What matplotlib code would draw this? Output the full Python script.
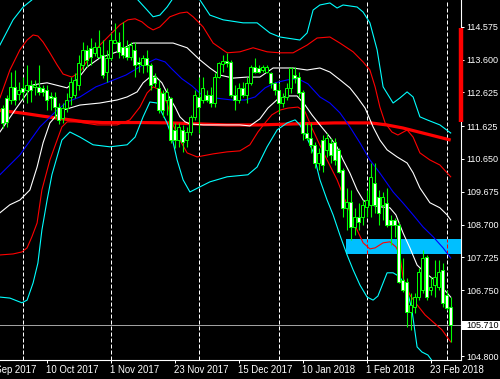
import matplotlib
matplotlib.use('Agg')
import matplotlib.pyplot as plt
import matplotlib.transforms as mtransforms
from matplotlib.patches import Rectangle
import numpy as np

plt.rcParams['font.family'] = ['Liberation Sans', 'DejaVu Sans']

# daily candles (bar 0 = mid Sep 2017, bar 112 = 2 Mar 2018)
opens = [112.162, 112.459, 112.400, 112.786, 112.578, 112.756, 112.697, 112.845, 112.786, 112.786,
         112.756, 112.697, 112.518, 112.489, 112.192, 111.865, 112.162, 112.489, 112.548, 112.845,
         113.438, 113.884, 113.943, 113.795, 113.676, 113.735, 113.231, 113.646, 114.092, 114.121,
         113.973, 113.973, 113.676, 113.884, 113.528, 113.438, 113.646, 113.438, 113.082, 112.756,
         112.608, 112.400, 112.459, 111.509, 111.212, 111.509, 111.212, 111.450, 111.895, 112.489,
         112.400, 112.548, 112.548, 112.311, 113.082, 113.468, 113.557, 113.528, 112.548, 112.400,
         112.756, 112.548, 112.904, 113.379, 113.349, 113.290, 113.231, 113.201, 112.904, 112.697,
         112.311, 112.489, 112.756, 113.142, 113.082, 112.637, 111.420, 111.272, 111.064, 110.530,
         111.212, 110.915, 111.123, 111.153, 110.915, 110.322, 109.194, 109.372, 108.630, 108.927,
         108.927, 109.223, 109.283, 109.936, 109.520, 109.283, 109.342, 108.838, 108.838, 108.689,
         107.057, 106.997, 106.107, 106.256, 106.552, 106.760, 107.739, 106.760, 106.908, 106.849,
         107.353, 106.612, 106.256]
highs = [112.251, 112.548, 113.231, 113.290, 112.934, 113.082, 113.438, 112.993, 112.993, 113.438,
         112.845, 112.845, 112.637, 112.637, 112.311, 112.311, 112.608, 113.082, 113.201, 113.735,
         114.121, 114.032, 114.240, 114.121, 114.477, 114.181, 113.884, 114.388, 114.685, 114.418,
         114.715, 114.181, 114.121, 114.121, 113.676, 113.735, 113.884, 113.498, 113.201, 112.993,
         112.697, 112.756, 112.489, 111.717, 111.717, 111.658, 111.598, 111.954, 112.697, 113.082,
         113.082, 112.697, 112.786, 113.201, 113.528, 113.735, 113.795, 113.587, 112.845, 112.904,
         112.934, 113.082, 113.438, 113.646, 113.438, 113.438, 113.438, 113.231, 112.934, 112.904,
         112.608, 112.904, 113.379, 113.379, 113.231, 112.697, 111.717, 111.717, 111.153, 110.975,
         111.361, 111.420, 111.272, 111.272, 110.975, 110.381, 109.788, 109.728, 109.194, 109.342,
         109.431, 109.728, 110.530, 110.530, 109.728, 109.669, 109.788, 108.986, 108.897, 108.778,
         107.709, 107.116, 106.671, 106.671, 107.413, 107.947, 107.799, 107.146, 107.650, 107.650,
         107.561, 106.760, 106.552]
lows = [111.568, 111.598, 112.281, 112.251, 112.400, 112.400, 112.311, 112.340, 112.548, 112.548,
        112.518, 112.103, 112.103, 111.865, 111.687, 111.717, 112.043, 112.251, 112.459, 112.697,
        113.290, 113.379, 113.438, 113.706, 113.646, 113.053, 112.934, 113.587, 114.092, 113.646,
        113.646, 113.587, 113.587, 113.082, 113.231, 113.201, 113.231, 112.697, 112.786, 112.014,
        111.895, 111.954, 111.123, 110.975, 111.004, 110.856, 111.004, 111.361, 111.806, 111.420,
        112.311, 112.340, 112.192, 112.192, 113.053, 113.231, 113.379, 112.489, 112.103, 112.311,
        112.489, 112.311, 112.845, 113.201, 113.201, 113.231, 113.201, 112.756, 112.548, 112.014,
        112.192, 112.400, 112.608, 112.904, 112.489, 111.212, 111.212, 110.826, 110.381, 110.322,
        110.263, 110.708, 110.530, 110.470, 110.233, 108.927, 108.541, 108.244, 108.393, 108.541,
        108.689, 108.927, 108.927, 109.045, 108.689, 108.838, 108.630, 108.095, 108.333, 106.968,
        106.701, 105.662, 105.573, 106.077, 106.463, 106.671, 106.463, 106.612, 106.552, 106.760,
        106.256, 106.167, 105.217]
closes = [111.717, 111.747, 112.786, 112.400, 112.697, 112.637, 112.845, 112.697, 112.845, 112.637,
          112.637, 112.400, 112.459, 112.192, 111.806, 112.162, 112.400, 112.934, 112.993, 113.498,
          113.884, 113.587, 113.676, 113.973, 113.973, 113.142, 113.646, 114.181, 114.181, 113.825,
          113.735, 113.676, 114.032, 113.438, 113.468, 113.646, 113.438, 112.845, 112.904, 112.103,
          112.103, 112.637, 111.212, 111.212, 111.598, 111.153, 111.450, 111.895, 112.548, 112.192,
          112.756, 112.400, 112.311, 113.082, 113.498, 113.557, 113.498, 112.548, 112.400, 112.756,
          112.548, 112.904, 113.379, 113.231, 113.231, 113.379, 113.379, 112.904, 112.697, 112.311,
          112.489, 112.756, 113.349, 113.053, 112.608, 111.420, 111.272, 111.064, 110.530, 110.826,
          110.470, 111.272, 110.767, 110.619, 110.263, 109.194, 109.372, 108.630, 108.927, 108.778,
          109.283, 109.431, 110.114, 109.283, 109.045, 109.520, 108.689, 108.689, 108.689, 106.997,
          106.760, 106.107, 106.315, 106.552, 107.294, 107.709, 106.552, 106.849, 107.146, 107.294,
          106.374, 106.226, 105.710]

# indicator lines (bar position, price)
cyan_up_x = [-0.7, 2.6, 5.1, 7.3, 11.8, 19.3, 26.8, 31.8, 33.8, 36.1, 37.6, 39.3, 41.1, 42.3, 45.6,
             49.3, 51.8, 55.1, 60.1, 63.6, 66.8, 69.3, 74.3, 76.1, 77.6, 79.3, 81.8, 83.6, 85.1, 88.6,
             90.1, 91.8, 93.6, 95.1, 97.6, 99.3, 101.1, 102.6, 104.3, 106.1, 109.3, 112]
cyan_up_y = [114.03, 114.78, 115.16, 115.37, 116.11, 116.56, 116.26, 115.61, 115.37, 115.07, 114.87,
             114.92, 115.16, 115.37, 115.73, 115.37, 114.92, 114.78, 114.69, 114.69, 114.39, 114.27,
             114.18, 114.39, 115.07, 115.22, 115.28, 115.13, 115.22, 115.16, 115.01, 114.69, 113.89,
             112.79, 112.31, 112.46, 112.64, 112.49, 111.90, 111.81, 111.66, 111.42]
cyan_lo_x = [-0.7, 1.8, 4.8, 6.1, 7.6, 8.8, 9.8, 11.1, 12.3, 14.8, 16.8, 19.3, 22.6, 26.8, 31.1,
             33.1, 35.1, 36.8, 38.6, 39.8, 41.1, 42.3, 43.6, 45.1, 46.8, 48.8, 51.8, 56.1, 61.3, 63.6,
             66.1, 68.6, 71.1, 73.1, 74.3, 76.1, 77.6, 79.3, 81.1, 82.6, 84.3, 86.1, 87.6, 89.3, 91.1,
             92.6, 93.8, 95.1, 96.1, 97.6, 99.3, 101.1, 102.3, 103.6, 104.8, 106.3, 107.6, 112]
cyan_lo_y = [106.55, 106.52, 106.38, 106.46, 106.97, 107.56, 108.54, 109.43, 110.18, 111.21, 111.45,
             111.30, 111.07, 111.01, 111.07, 111.30, 111.90, 112.34, 112.31, 112.02, 111.72, 111.30,
             110.62, 110.03, 109.67, 109.79, 109.97, 110.12, 110.18, 110.41, 111.01, 111.51, 111.72,
             111.81, 111.66, 111.27, 110.86, 110.03, 109.43, 108.99, 108.39, 107.80, 107.36, 106.91,
             106.55, 106.46, 106.58, 106.97, 107.27, 107.27, 107.15, 106.76, 106.17, 105.07, 104.92,
             104.83, 104.62, 104.24]
red_up_x = [-0.7, 1.8, 4.3, 6.1, 7.6, 8.8, 10.1, 11.8, 13.6, 15.1, 17.3, 19.3, 20.8, 22.3, 24.3,
            26.8, 29.3, 31.3, 33.1, 34.8, 36.3, 37.6, 39.3, 41.8, 44.3, 46.1, 47.6, 50.1, 52.6, 56.1,
            59.3, 62.6, 66.1, 69.3, 72.6, 76.1, 78.6, 81.8, 84.3, 87.6, 90.1, 91.8, 93.1, 94.3, 95.6,
            97.3, 98.8, 101.1, 102.6, 104.3, 106.8, 109.3, 112]
red_up_y = [112.46, 113.29, 113.89, 114.18, 114.33, 114.30, 114.12, 113.80, 113.44, 113.17, 113.08,
            113.23, 113.50, 113.74, 114.03, 114.33, 114.63, 114.78, 114.81, 114.72, 114.57, 114.48,
            114.57, 114.87, 114.98, 115.01, 114.87, 114.57, 114.09, 113.80, 113.83, 113.95, 113.83,
            113.80, 113.80, 114.03, 114.24, 114.27, 114.09, 113.83, 113.53, 113.29, 112.79, 112.19,
            111.72, 111.45, 111.36, 111.51, 111.30, 110.83, 110.62, 110.47, 110.12]
red_lo_x = [-0.7, 2.6, 4.8, 6.1, 7.3, 8.6, 9.8, 11.8, 13.6, 14.8, 16.1, 18.6, 23.6, 28.6, 31.8,
            34.3, 36.1, 37.6, 39.3, 41.1, 42.6, 44.3, 46.1, 48.6, 52.6, 56.1, 59.3, 61.8, 63.8, 65.6,
            67.3, 69.3, 71.3, 73.8, 75.6, 77.3, 79.3, 81.1, 83.6, 85.1, 86.8, 88.6, 90.1, 91.8, 93.1,
            95.1, 96.8, 98.3, 99.3, 100.1, 101.8, 103.6, 105.6, 107.6, 109.8, 112]
red_lo_y = [107.80, 107.83, 107.89, 108.01, 108.34, 108.75, 109.73, 110.62, 111.21, 111.60, 111.75,
            111.75, 111.66, 111.66, 111.81, 112.19, 112.61, 112.79, 112.70, 112.31, 111.66, 111.21,
            110.83, 110.71, 110.80, 110.86, 110.89, 111.07, 111.45, 111.72, 111.96, 112.10, 112.16,
            112.19, 112.05, 111.57, 111.06, 110.62, 110.03, 109.58, 109.08, 108.54, 108.16, 107.98,
            108.01, 108.16, 108.19, 108.04, 107.80, 107.12, 106.61, 106.32, 106.02, 105.81, 105.58,
            105.22]
white_up_x = [-0.7, 3.6, 7.6, 11.1, 16.1, 18.6, 21.1, 24.3, 28.6, 32.6, 36.8, 42.6, 46.1, 49.3, 51.8,
              54.3, 57.6, 61.1, 64.3, 67.6, 72.6, 76.1, 79.3, 81.8, 84.3, 86.8, 88.6, 90.6, 92.6, 94.3,
              96.1, 98.6, 101.1, 102.6, 104.3, 106.8, 109.3, 111.1, 112]
white_up_y = [111.45, 112.19, 112.85, 112.91, 112.76, 113.00, 113.38, 113.65, 113.83, 114.09, 114.09,
              114.09, 113.95, 113.59, 113.35, 113.14, 113.05, 113.08, 113.08, 113.35, 113.35, 113.29,
              113.35, 113.23, 113.00, 112.76, 112.49, 112.16, 111.60, 111.21, 110.92, 110.71, 110.53,
              110.24, 109.79, 109.35, 109.20, 108.99, 108.84]
white_lo_x = [-0.7, 1.8, 4.3, 6.8, 8.6, 10.1, 11.8, 13.6, 15.1, 19.3, 24.3, 28.6, 31.1, 33.6, 35.1,
              36.8, 38.1, 39.8, 41.6, 43.1, 44.3, 45.6, 46.8, 50.1, 55.1, 59.3, 61.8, 64.3, 66.3, 68.8,
              71.3, 73.6, 75.6, 77.3, 79.3, 81.8, 83.6, 85.1, 86.8, 88.6, 90.1, 91.8, 94.3, 96.8, 98.3,
              100.1, 101.8, 103.6, 105.6, 107.6, 109.6, 112]
white_lo_y = [109.05, 109.29, 109.43, 109.73, 110.41, 111.13, 111.72, 111.96, 112.10, 112.25, 112.31,
              112.40, 112.49, 112.64, 112.91, 113.08, 113.11, 112.91, 112.49, 112.19, 111.90, 111.75,
              111.69, 111.66, 111.66, 111.66, 111.63, 111.84, 112.16, 112.43, 112.52, 112.52, 112.25,
              111.96, 111.66, 111.30, 111.00, 110.62, 110.23, 109.73, 109.43, 109.29, 109.23, 109.20,
              108.99, 108.45, 108.01, 107.50, 107.27, 107.09, 106.88, 106.55]
blue_x = [-0.7, 4.3, 9.3, 13.6, 16.1, 19.3, 23.3, 26.6, 30.8, 35.1, 38.3, 40.6, 42.3, 44.8, 47.3,
          49.8, 53.1, 57.3, 60.6, 63.1, 65.6, 68.1, 71.3, 73.8, 76.3, 79.3, 81.8, 84.3, 86.8, 89.3,
          91.8, 94.3, 97.6, 100.1, 102.6, 105.1, 107.6, 110.1, 112]
blue_y = [110.18, 110.77, 111.60, 112.10, 112.34, 112.49, 112.79, 112.94, 113.14, 113.44, 113.62,
          113.53, 113.32, 113.03, 112.82, 112.55, 112.46, 112.40, 112.40, 112.49, 112.76, 112.91,
          113.00, 113.03, 112.88, 112.49, 112.31, 112.02, 111.60, 111.13, 110.62, 110.23, 109.67,
          109.34, 108.99, 108.63, 108.34, 108.01, 107.71]
ma_x = [-0.7, 5, 10, 15, 20, 25, 35, 42, 56, 64, 73, 83, 92, 96, 100, 104, 108, 112]
ma_y = [112.09, 112.01, 111.92, 111.84, 111.76, 111.73, 111.73, 111.72, 111.66, 111.66, 111.69,
        111.72, 111.72, 111.66, 111.57, 111.45, 111.33, 111.21]

date_ticks = [-5, 11, 27, 43, 59, 75, 91, 107]
date_labels = ['18 Sep 2017', '10 Oct 2017', '1 Nov 2017', '23 Nov 2017', '15 Dec 2017',
               '10 Jan 2018', '1 Feb 2018', '23 Feb 2018']
price_ticks = [114.575, 113.600, 112.625, 111.625, 110.650, 109.675, 108.700, 107.725, 106.750, 104.800]
grid_bars = [5, 27, 49, 69, 91, 111]
zone_start = 85.8
zone_low, zone_high = 107.83, 108.27
range_low, range_high = 111.75, 114.54
last_price = closes[-1]

fig = plt.figure(figsize=(5, 3.79), dpi=100, facecolor='black')
ax = fig.add_axes([0, 19 / 379, 460.7 / 500, 360 / 379], facecolor='black')
ax.set_xlim(-0.675, 114.5)
ax.set_ylim(104.682, 115.368)

for g in grid_bars:
    ax.axvline(g, color='white', lw=0.72, ls=(0, (4, 2)), zorder=1)

ax.add_patch(Rectangle((zone_start, zone_low), 40, zone_high - zone_low,
                       facecolor='#00BFFF', edgecolor='none', zorder=1.5))
inside = [g for g in grid_bars if g > zone_start]
ax.vlines(inside, zone_low, zone_high, colors='red', lw=0.72, linestyles=(0, (4, 2)), zorder=1.6)

ax.axhline(last_price, color='#a0a0a0', lw=0.72, zorder=1.7)

ax.plot(ma_x, ma_y, color='red', lw=2.3, zorder=3, solid_capstyle='butt')
for lx, ly, col in [(cyan_up_x, cyan_up_y, '#00FFFF'), (cyan_lo_x, cyan_lo_y, '#00FFFF'),
                    (red_up_x, red_up_y, 'red'), (red_lo_x, red_lo_y, 'red'),
                    (white_up_x, white_up_y, 'white'), (white_lo_x, white_lo_y, 'white'),
                    (blue_x, blue_y, '#0000FF')]:
    ax.plot(lx, ly, color=col, lw=0.8, zorder=3)

# candles: black body = up day, white body = down day
o = np.array(opens)
c = np.array(closes)
x = np.arange(len(o))
ax.vlines(x, lows, highs, colors='#00FF00', lw=0.8, zorder=4)
body = np.maximum(np.abs(c - o), 0.012)
ax.bar(x, body, bottom=np.minimum(o, c), width=0.75,
       color=np.where(c >= o, 'black', 'white'), edgecolor='#00FF00', linewidth=0.72, zorder=5)

# axes styling
for s in ['top', 'left']:
    ax.spines[s].set_visible(False)
for s in ['right', 'bottom']:
    ax.spines[s].set_color('white')
    ax.spines[s].set_linewidth(0.8)

ax.yaxis.tick_right()
ax.set_yticks(price_ticks)
ax.set_yticklabels([f'{p:.3f}' for p in price_ticks])
ax.tick_params(axis='y', colors='white', length=2.2, width=0.72, pad=2.2, labelsize=6.5)

vis = [t for t in date_ticks if t > -0.675]
ax.set_xticks(vis)
ax.set_xticklabels([])
ax.tick_params(axis='x', colors='white', length=2.2, width=0.72)

trans = mtransforms.blended_transform_factory(ax.transData, ax.transAxes)
for t, lab in zip(date_ticks, date_labels):
    ax.text(t - 0.1, -10 / 360, lab, transform=trans, ha='left', va='center',
            color='white', fontsize=6.9, clip_on=False)

ytrans = mtransforms.blended_transform_factory(ax.transAxes, ax.transData)
ax.vlines(1.0, range_low, range_high, transform=ytrans, colors='red', lw=3.2,
          clip_on=False, zorder=6)
ax.add_patch(Rectangle((1.0022, last_price - 0.135), 0.09, 0.27, transform=ytrans,
                       facecolor='white', edgecolor='none', clip_on=False, zorder=6))
ax.text(1.0126, last_price, f'{last_price:.3f}', transform=ytrans, ha='left', va='center',
        color='black', fontsize=6.5, clip_on=False, zorder=7)

fig.savefig('out.png', dpi=100, facecolor='black')
